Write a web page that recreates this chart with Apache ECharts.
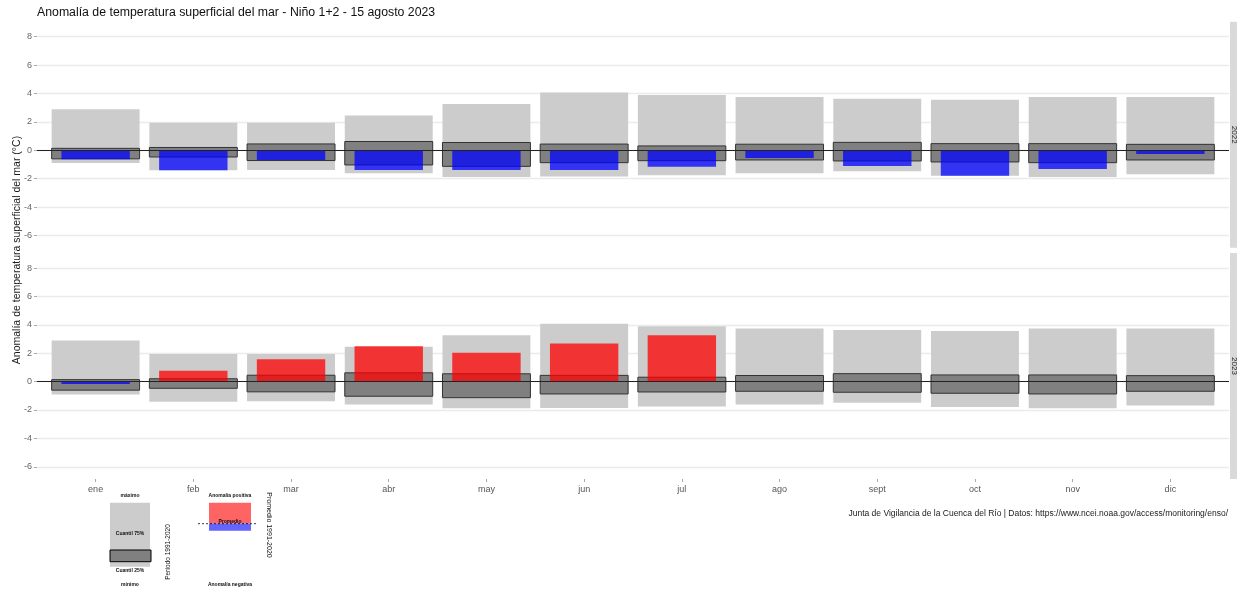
<!DOCTYPE html>
<html>
<head>
<meta charset="utf-8">
<script src="https://cdn.jsdelivr.net/npm/echarts@6/dist/echarts.min.js"></script>
<style>
  html, body { margin: 0; padding: 0; background: #fff; }
  #chart { width: 1237px; height: 592px; }
</style>
</head>
<body>
<div id="chart"></div>
<script>
// Monthly categories
const months = ['ene', 'feb', 'mar', 'abr', 'may', 'jun', 'jul', 'ago', 'sept', 'oct', 'nov', 'dic'];
// Climatology 1991-2020 (°C anomaly): extremes and quartiles
const climMax = [2.89, 1.94, 1.94, 2.46, 3.26, 4.08, 3.9, 3.75, 3.63, 3.56, 3.75, 3.75];
const climMin = [-0.9, -1.41, -1.39, -1.62, -1.88, -1.85, -1.76, -1.62, -1.48, -1.79, -1.88, -1.69];
const climQ75 = [0.14, 0.2, 0.45, 0.62, 0.55, 0.44, 0.31, 0.43, 0.56, 0.47, 0.47, 0.42];
const climQ25 = [-0.6, -0.47, -0.72, -1.03, -1.13, -0.87, -0.73, -0.68, -0.75, -0.82, -0.87, -0.68];
// Observed monthly anomalies per year
const years = ['2022', '2023'];
const anom2022 = [-0.63, -1.41, -0.68, -1.39, -1.39, -1.39, -1.15, -0.54, -1.1, -1.79, -1.32, -0.26];
const anom2023 = [-0.17, 0.77, 1.58, 2.49, 2.04, 2.68, 3.27, null, null, null, null, null];
const yTicks = [-6, -4, -2, 0, 2, 4, 6, 8];

const FONT = 'Liberation Sans, Arial, sans-serif';
const chart = echarts.init(document.getElementById('chart'));

const PANEL_LEFT = 37;
const PANEL_RIGHT = 1229;
const panels = [{ top: 21.7, height: 226 }, { top: 253, height: 226 }];

function rectRenderer(width, styleFn) {
  return function (params, api) {
    const x = api.value(0), a = api.value(1), b = api.value(2);
    const p1 = api.coord([x - width / 2, Math.max(a, b)]);
    const p2 = api.coord([x + width / 2, Math.min(a, b)]);
    return {
      type: 'rect',
      shape: { x: p1[0], y: p1[1], width: p2[0] - p1[0], height: p2[1] - p1[1] },
      style: styleFn(a, b)
    };
  };
}

const rangeData = months.map((m, i) => [i, climMin[i], climMax[i]]);
const boxData = months.map((m, i) => [i, climQ25[i], climQ75[i]]);
const anomSets = [anom2022, anom2023];

const grids = [], xAxes = [], yAxes = [], series = [];
panels.forEach((p, k) => {
  grids.push({ left: PANEL_LEFT, right: 1237 - PANEL_RIGHT, top: p.top, height: p.height });
  const isBottom = k === panels.length - 1;
  xAxes.push({
    type: 'value', gridIndex: k, min: -0.6, max: 11.6, position: 'bottom',
    axisLine: { show: false, onZero: false },
    splitLine: { show: false },
    axisTick: { show: isBottom, customValues: months.map((m, i) => i), length: 3, lineStyle: { color: '#aaa' } },
    axisLabel: {
      show: isBottom, customValues: months.map((m, i) => i), margin: 6,
      formatter: v => months[Math.round(v)] || '',
      color: '#555', fontSize: 9, fontFamily: FONT
    }
  });
  yAxes.push({
    type: 'value', gridIndex: k, min: -6.86, max: 9.06, position: 'left',
    axisLine: { show: false, onZero: false },
    axisTick: { show: true, customValues: yTicks, length: 3, lineStyle: { color: '#aaa' } },
    axisLabel: { customValues: yTicks, margin: 5, color: '#666', fontSize: 9, fontFamily: FONT },
    splitLine: { show: true, lineStyle: { color: '#ebebeb', width: 1.3 } }
  });
  series.push({
    type: 'custom', xAxisIndex: k, yAxisIndex: k, z: 1,
    renderItem: rectRenderer(0.9, () => ({ fill: '#cccccc' })),
    data: rangeData, silent: true
  });
  series.push({
    type: 'custom', xAxisIndex: k, yAxisIndex: k, z: 2,
    renderItem: rectRenderer(0.9, () => ({ fill: '#808080', stroke: '#333', lineWidth: 1 })),
    data: boxData, silent: true
  });
  series.push({
    type: 'custom', xAxisIndex: k, yAxisIndex: k, z: 3,
    renderItem: rectRenderer(0.7, (a, b) => ({
      fill: (a + b) >= 0 ? 'rgba(255,0,0,0.75)' : 'rgba(0,0,255,0.75)'
    })),
    data: anomSets[k].map((v, i) => v == null ? null : [i, 0, v]).filter(d => d),
    silent: true,
    markLine: {
      silent: true, symbol: 'none', z: 10,
      label: { show: false },
      lineStyle: { color: '#222', width: 1, type: 'solid' },
      data: [{ yAxis: 0 }]
    }
  });
});

// Facet strips on the right edge
const graphics = [];
panels.forEach((p, k) => {
  graphics.push({
    type: 'rect', left: PANEL_RIGHT + 1, top: p.top,
    shape: { x: 0, y: 0, width: 20, height: p.height },
    style: { fill: '#d9d9d9' }
  });
  graphics.push({
    type: 'text', x: 1234, y: p.top + p.height / 2, rotation: -Math.PI / 2,
    style: { text: years[k], fill: '#1a1a1a', font: '8px ' + FONT, align: 'center', verticalAlign: 'middle' }
  });
});

// Y-axis title spanning both panels
graphics.push({
  type: 'text', x: 17, y: 250, rotation: Math.PI / 2,
  style: { text: 'Anomalía de temperatura superficial del mar (°C)', fill: '#1a1a1a',
           font: '10.5px ' + FONT, align: 'center', verticalAlign: 'middle' }
});

// Caption
graphics.push({
  type: 'text', x: 1228, y: 514,
  style: { text: 'Junta de Vigilancia de la Cuenca del Río | Datos: https://www.ncei.noaa.gov/access/monitoring/enso/',
           fill: '#1a1a1a', font: '8.5px ' + FONT, align: 'right', verticalAlign: 'middle' }
});

// Key: climatology bar
function keyText(txt, x, y, size, rot) {
  return { type: 'text', x: x, y: y, rotation: rot || 0,
    style: { text: txt, fill: '#111', font: 'bold ' + size + 'px ' + FONT, align: 'center', verticalAlign: 'middle' } };
}
graphics.push({ type: 'rect', shape: { x: 110, y: 502.7, width: 40, height: 64 }, style: { fill: '#cccccc' } });
graphics.push({ type: 'rect', shape: { x: 110, y: 550, width: 41, height: 11.7 }, style: { fill: '#808080', stroke: '#000', lineWidth: 1 } });
graphics.push(keyText('máximo', 130, 496, 5));
graphics.push(keyText('Cuantil 75%', 130, 533.5, 5));
graphics.push(keyText('Cuantil 25%', 130, 570.7, 5));
graphics.push(keyText('mínimo', 130, 585, 5));
graphics.push({ type: 'text', x: 168.5, y: 552, rotation: Math.PI / 2,
  style: { text: 'Período 1991-2020', fill: '#111', font: '6.5px ' + FONT, align: 'center', verticalAlign: 'middle' } });

// Key: anomaly bar
graphics.push({ type: 'rect', shape: { x: 209, y: 502.7, width: 42, height: 20.8 }, style: { fill: '#ff6464' } });
graphics.push({ type: 'rect', shape: { x: 209, y: 523.5, width: 42, height: 7.2 }, style: { fill: '#6464ff' } });
graphics.push({ type: 'line', shape: { x1: 198, y1: 523.7, x2: 258, y2: 523.7 },
  style: { stroke: '#000', lineWidth: 0.8, lineDash: [2, 2] } });
graphics.push(keyText('Promedio', 230, 521.5, 5));
graphics.push(keyText('Anomalía positiva', 230, 496, 5));
graphics.push(keyText('Anomalía negativa', 230, 585, 5));
graphics.push({ type: 'text', x: 268.5, y: 525, rotation: -Math.PI / 2,
  style: { text: 'Promedio 1991-2020', fill: '#111', font: '7px ' + FONT, align: 'center', verticalAlign: 'middle' } });

chart.setOption({
  animation: false,
  backgroundColor: '#fff',
  title: {
    text: 'Anomalía de temperatura superficial del mar - Niño 1+2 - 15 agosto 2023',
    left: 37, top: 6.5, padding: 0,
    textStyle: { fontSize: 12.3, fontWeight: 'normal', color: '#111', fontFamily: FONT }
  },
  grid: grids,
  xAxis: xAxes,
  yAxis: yAxes,
  series: series,
  graphic: graphics
});
</script>
</body>
</html>
